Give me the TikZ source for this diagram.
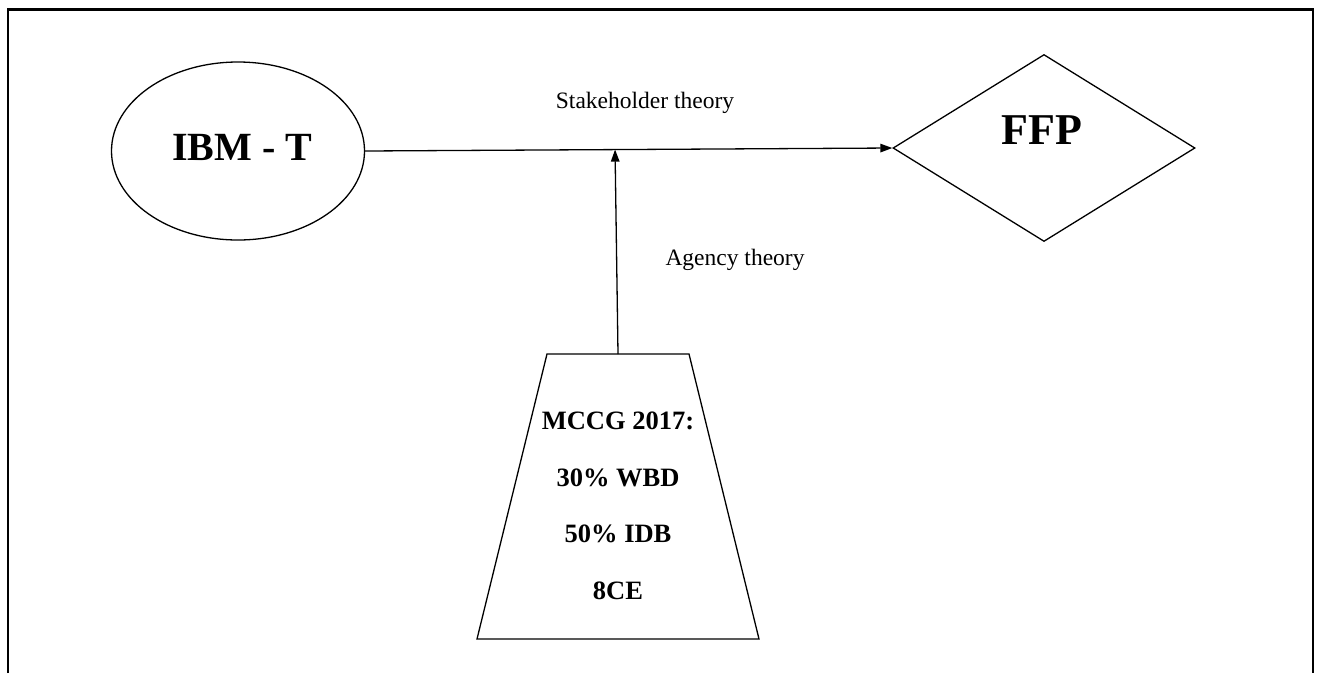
\documentclass[tikz,border=0pt]{standalone}
\usepackage{fontspec}
\setmainfont{Liberation Serif}
\usetikzlibrary{shapes.geometric,arrows.meta}
\begin{document}
\begin{tikzpicture}[x=1pt,y=-1pt,
  shapeline/.style={draw, line width=1.3pt, inner sep=0pt},
  link/.style={line width=1.3pt, -{Triangle[length=12pt,width=8.5pt]}},
  labeltext/.style={font=\fontsize{23.5}{28}\selectfont, inner sep=0pt},
  bigtext/.style={font=\fontsize{40}{48}\selectfont\bfseries, inner sep=0pt},
  boxtext/.style={font=\fontsize{26.5}{56.5}\selectfont\bfseries, align=center, inner sep=0pt}]
\useasboundingbox (0,0) rectangle (1319,673);
\draw[line width=2.2pt] (8,673) -- (8,9.5) -- (1313,9.5) -- (1313,673);
\node[shapeline, ellipse, minimum width=253pt, minimum height=178pt] (ibm) at (238,151) {};
\node[bigtext] (ibmt) at (242,147) {IBM - T};
\node[shapeline, diamond, minimum width=302pt, minimum height=187pt] (ffp) at (1044,148) {};
\node[bigtext, font=\fontsize{44}{52}\selectfont\bfseries] (ffpt) at (1042,130) {FFP};
\coordinate (tl) at (547,354);
\coordinate (tr) at (689,354);
\coordinate (br) at (759,639);
\coordinate (bl) at (477,639);
\coordinate (ttop) at (618,354);
\draw[line width=1.3pt] (tl) -- (tr) -- (br) -- (bl) -- cycle;
\node[boxtext] (mccg) at (618,506) {MCCG 2017:\\30\% WBD\\50\% IDB\\8CE};
\path (ibm.east) -- (ffp.west) coordinate[pos=0.474] (join);
\draw[link] (ibm.east) -- (ffp.west);
\draw[link] (ttop) -- (join);
\node[labeltext] (stake) at (645,103) {Stakeholder theory};
\node[labeltext] (agency) at (735,260) {Agency theory};
\end{tikzpicture}
\end{document}
